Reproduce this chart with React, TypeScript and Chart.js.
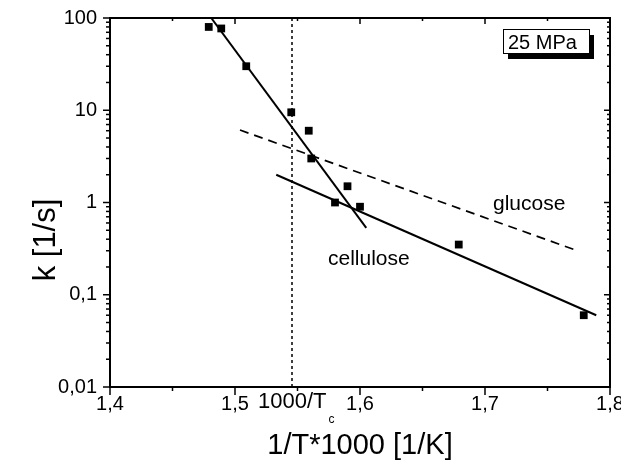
import { useEffect, useRef } from 'react';
import { Chart, registerables } from 'chart.js';

Chart.register(...registerables);

const FONT = '"Liberation Sans", Arial, Helvetica, sans-serif';

// Measured rate constants, 25 MPa
const sampleInvT = [1.479, 1.489, 1.509, 1.545, 1.559, 1.561, 1.58, 1.59, 1.6, 1.679, 1.779];
const sampleK = [80, 77, 30, 9.5, 6, 3, 1, 1.5, 0.9, 0.35, 0.06];

// Arrhenius fits
const steepFitInvT = [1.481, 1.605];
const steepFitK = [100, 0.53];
const celluloseFitInvT = [1.533, 1.789];
const celluloseFitK = [2.0, 0.06];
const glucoseFitInvT = [1.504, 1.774];
const glucoseFitK = [6.1, 0.3];

// Critical temperature of water, 1000/Tc
const criticalInvT = 1.5456;

const xTickValues = [1.4, 1.5, 1.6, 1.7, 1.8];
const xMinorTickValues = [1.45, 1.55, 1.65, 1.75];
const kTickValues = [0.01, 0.1, 1, 10, 100];
const kMinorTickValues = [-2, -1, 0, 1].flatMap((e) =>
  [2, 3, 4, 5, 6, 7, 8, 9].map((m) => m * Math.pow(10, e))
);

const toPoints = (xs: number[], ys: number[]) => xs.map((x, i) => ({ x, y: ys[i] }));
const comma = (v: number) => String(v).replace('.', ',');

const frameAxesPlugin = {
  id: 'frameAxes',
  afterDraw(chart: any) {
    const { ctx, chartArea: a, scales } = chart;
    const xs = scales.x;
    const ys = scales.y;
    ctx.save();
    ctx.strokeStyle = '#000';
    ctx.fillStyle = '#000';
    const seg = (x1: number, y1: number, x2: number, y2: number) => {
      ctx.beginPath();
      ctx.moveTo(x1, y1);
      ctx.lineTo(x2, y2);
      ctx.stroke();
    };

    // tick marks: outward on bottom/left, inward on top/right
    ctx.lineWidth = 1.5;
    xTickValues.forEach((v) => {
      const px = xs.getPixelForValue(v);
      seg(px, a.bottom, px, a.bottom + 8);
      seg(px, a.top, px, a.top + 6);
    });
    xMinorTickValues.forEach((v) => {
      const px = xs.getPixelForValue(v);
      seg(px, a.bottom, px, a.bottom + 4);
      seg(px, a.top, px, a.top + 3);
    });
    kTickValues.forEach((v) => {
      const py = ys.getPixelForValue(v);
      seg(a.left - 7, py, a.left, py);
      seg(a.right, py, a.right - 6, py);
    });
    kMinorTickValues.forEach((v) => {
      const py = ys.getPixelForValue(v);
      seg(a.left - 4, py, a.left, py);
      seg(a.right, py, a.right - 3, py);
    });

    // frame
    ctx.lineWidth = 2;
    ctx.strokeRect(a.left, a.top, a.right - a.left, a.bottom - a.top);

    // axis titles
    ctx.font = `29px ${FONT}`;
    ctx.textAlign = 'center';
    ctx.textBaseline = 'alphabetic';
    ctx.fillText('1/T*1000 [1/K]', (a.left + a.right) / 2, 454);
    ctx.save();
    ctx.translate(55, 240);
    ctx.rotate(-Math.PI / 2);
    ctx.font = `31px ${FONT}`;
    ctx.fillText('k [1/s]', 0, 0);
    ctx.restore();

    // 1000/Tc label under the axis
    ctx.textAlign = 'left';
    ctx.font = `22px ${FONT}`;
    const tcText = '1000/T';
    const tcW = ctx.measureText(tcText).width;
    const tcLeft = xs.getPixelForValue(criticalInvT) - 34;
    ctx.fillText(tcText, tcLeft, 408);
    ctx.font = `12px ${FONT}`;
    ctx.fillText('c', tcLeft + tcW + 2, 423);

    // curve labels
    ctx.font = `21px ${FONT}`;
    ctx.fillText('glucose', xs.getPixelForValue(1.7064), ys.getPixelForValue(0.83));
    ctx.fillText('cellulose', xs.getPixelForValue(1.5744), ys.getPixelForValue(0.211));

    // pressure box with drop shadow
    const bw = 86;
    const bh = 24;
    const bx = a.right - 21 - bw;
    const by = a.top + 11;
    ctx.fillRect(bx + 5, by + 6, bw, bh);
    ctx.fillStyle = '#fff';
    ctx.fillRect(bx, by, bw, bh);
    ctx.fillStyle = '#000';
    ctx.lineWidth = 1;
    ctx.strokeRect(bx + 0.5, by + 0.5, bw, bh);
    ctx.font = `20px ${FONT}`;
    ctx.fillText('25 MPa', bx + 5, by + 20);

    ctx.restore();
  },
};

export default function App() {
  const canvasRef = useRef<HTMLCanvasElement | null>(null);

  useEffect(() => {
    const canvas = canvasRef.current;
    if (!canvas) return;
    const lineStyle = {
      showLine: true,
      pointRadius: 0,
      borderColor: '#000',
      backgroundColor: '#000',
      fill: false,
    };
    const chart = new Chart(canvas, {
      type: 'scatter',
      data: {
        datasets: [
          {
            ...lineStyle,
            data: toPoints([criticalInvT, criticalInvT], [0.01, 100]),
            borderWidth: 1.5,
            borderDash: [3, 3],
          },
          {
            ...lineStyle,
            data: toPoints(glucoseFitInvT, glucoseFitK),
            borderWidth: 1.7,
            borderDash: [9, 6],
          },
          { ...lineStyle, data: toPoints(steepFitInvT, steepFitK), borderWidth: 2 },
          { ...lineStyle, data: toPoints(celluloseFitInvT, celluloseFitK), borderWidth: 2 },
          {
            data: toPoints(sampleInvT, sampleK),
            pointStyle: 'rect',
            pointRadius: 5.5,
            borderWidth: 0,
            backgroundColor: '#000',
            borderColor: '#000',
          },
        ],
      },
      options: {
        responsive: false,
        animation: false,
        layout: { padding: { top: 18, right: 11, left: 0, bottom: 0 } },
        plugins: { legend: { display: false }, tooltip: { enabled: false } },
        scales: {
          x: {
            type: 'linear',
            min: 1.4,
            max: 1.8,
            grid: { display: false, drawTicks: false },
            border: { display: false },
            afterBuildTicks: (scale: any) => {
              scale.ticks = xTickValues.map((value) => ({ value }));
            },
            afterFit: (scale: any) => {
              scale.height = 74;
              scale.paddingLeft = 0;
              scale.paddingRight = 0;
            },
            ticks: {
              color: '#000',
              font: { family: FONT, size: 20 },
              padding: 5,
              maxRotation: 0,
              autoSkip: false,
              callback: (v: any) => Number(v).toFixed(1).replace('.', ','),
            },
          },
          y: {
            type: 'logarithmic',
            min: 0.01,
            max: 100,
            grid: { display: false, drawTicks: false },
            border: { display: false },
            afterBuildTicks: (scale: any) => {
              scale.ticks = kTickValues.map((value) => ({ value }));
            },
            afterFit: (scale: any) => {
              scale.width = 110;
              scale.paddingTop = 0;
              scale.paddingBottom = 0;
            },
            ticks: {
              color: '#000',
              font: { family: FONT, size: 20 },
              padding: 13,
              autoSkip: false,
              callback: (v: any) => comma(Number(v)),
            },
          },
        },
      },
      plugins: [frameAxesPlugin],
    } as any);
    return () => chart.destroy();
  }, []);

  return (
    <div style={{ position: 'absolute', left: 0, top: 0, width: 621, height: 461, background: '#fff' }}>
      <canvas ref={canvasRef} width={621} height={461} />
    </div>
  );
}
